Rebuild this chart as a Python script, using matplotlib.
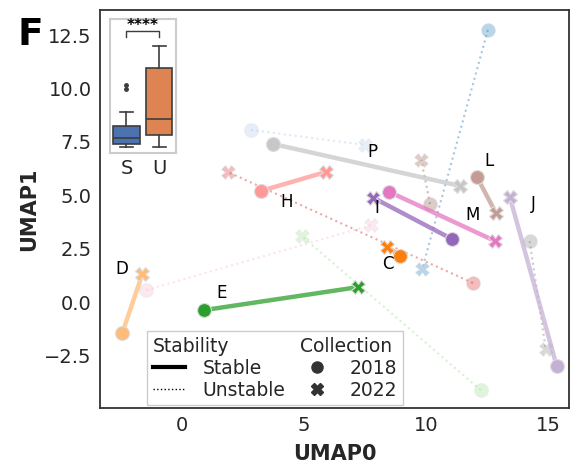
import matplotlib
matplotlib.use("Agg")
import matplotlib.pyplot as plt
from matplotlib.lines import Line2D

# group names, 2018 / 2022 UMAP positions and stability
groups = list("ABCDEFGHIJKLMNOP")
x2018 = [12.53, 2.82, 8.94, -2.45, 0.90, 12.24, 11.92, 3.22, 11.06, 15.35, 10.16, 12.08, 8.49, -1.47, 14.24, 3.71]
y2018 = [12.75, 8.06, 2.16, -1.45, -0.38, -4.13, 0.89, 5.20, 2.95, -3.00, 4.59, 5.86, 5.16, 0.56, 2.86, 7.41]
x2022 = [9.84, 7.51, 8.41, -1.63, 7.22, 4.90, 1.88, 5.88, 7.84, 13.43, 9.80, 12.86, 12.82, 7.76, 14.90, 11.39]
y2022 = [1.55, 7.36, 2.58, 1.31, 0.70, 3.09, 6.09, 6.09, 4.88, 4.92, 6.66, 4.17, 2.86, 3.61, -2.20, 5.44]
stable = [False, False, True, True, True, False, False, True, True, True, False, True, True, False, False, True]

# label positions for the stable groups
label_names = ["P", "L", "J", "M", "I", "C", "H", "E", "D"]
label_x = [7.80, 12.57, 14.41, 11.92, 7.96, 8.45, 4.29, 1.63, -2.49]
label_y = [7.03, 6.61, 4.59, 4.08, 4.40, 1.78, 4.69, 0.42, 1.55]

# inset boxplot stats (S = stable, U = unstable)
box_labels = ["S", "U"]
box_low = [0.63, 0.63]
box_q1 = [0.90, 1.77]
box_med = [1.50, 3.37]
box_q3 = [2.73, 8.53]
box_high = [4.07, 10.73]
box_fliers = [[6.37, 6.80], []]

colors = plt.get_cmap("tab20").colors
txt_col = "#262626"

fig = plt.figure(figsize=(5.72, 4.68), dpi=100)
ax = fig.add_axes([0.175, 0.128, 0.82, 0.851])

# unstable first (faded, dotted), stable on top
for pass_stable in [False, True]:
    for i, g in enumerate(groups):
        if stable[i] != pass_stable:
            continue
        c = colors[i]
        if stable[i]:
            ax.plot([x2018[i], x2022[i]], [y2018[i], y2022[i]], color=c, lw=3.2, alpha=0.75,
                    solid_capstyle="round", zorder=3)
            a = 1.0
            z = 4
        else:
            ax.plot([x2018[i], x2022[i]], [y2018[i], y2022[i]], color=c, lw=1.5, ls=":",
                    alpha=0.4, zorder=1)
            a = 0.3
            z = 2
        ax.plot(x2018[i], y2018[i], "o", color=c, ms=10, mec="#dddddd", mew=0.8, alpha=a, zorder=z)
        ax.plot(x2022[i], y2022[i], "X", color=c, ms=10, mec="#dddddd", mew=0.8, alpha=a, zorder=z)

for n, lx, ly in zip(label_names, label_x, label_y):
    ax.text(lx, ly, n, fontsize=12, ha="center", va="center", color="black", zorder=6)

ax.set_xlim(-3.36, 15.86)
ax.set_ylim(-4.97, 13.69)
ax.set_xticks([0, 5, 10, 15])
ax.set_yticks([-2.5, 0.0, 2.5, 5.0, 7.5, 10.0, 12.5])
ax.tick_params(length=0, labelsize=14, labelcolor=txt_col, pad=6)
for s in ax.spines.values():
    s.set_color("#333333")
    s.set_linewidth(1.3)
ax.set_xlabel("UMAP0", fontsize=15, fontweight="bold", color=txt_col, labelpad=6)
ax.set_ylabel("UMAP1", fontsize=15, fontweight="bold", color=txt_col, labelpad=4)

# legend with two subtitle entries
blank = Line2D([], [], linestyle="none", marker="none", visible=False)
handles = [
    blank,
    Line2D([], [], color="black", lw=3),
    Line2D([], [], color="black", lw=1, ls=":"),
    blank,
    Line2D([], [], color="#333333", marker="o", ls="none", ms=8),
    Line2D([], [], color="#333333", marker="X", ls="none", ms=8),
]
labels = ["Stability", "Stable", "Unstable", "Collection", "2018", "2022"]
leg = ax.legend(handles, labels, ncol=2, loc="lower left", bbox_to_anchor=(0.1, 0.007),
                borderaxespad=0, fontsize=13.5, columnspacing=0.8, handlelength=1.75,
                handletextpad=0.9, labelspacing=0.15, fancybox=False, framealpha=1,
                edgecolor="#cccccc", borderpad=0.3)
for col in leg._legend_handle_box.get_children():
    for hp in col.get_children():
        da, ta = hp.get_children()
        if ta.get_children()[0].get_text() in ("Stability", "Collection"):
            da.set_width(0)
            hp.sep = 0
for t in leg.get_texts():
    t.set_color(txt_col)

# inset boxplot
ins = fig.add_axes([0.192, 0.673, 0.116, 0.286])
stats = []
for k in range(2):
    stats.append(dict(label=box_labels[k], whislo=box_low[k], q1=box_q1[k], med=box_med[k],
                      q3=box_q3[k], whishi=box_high[k], fliers=box_fliers[k]))
bp = ins.bxp(stats, positions=[0, 1], widths=0.8, patch_artist=True, capwidths=0.4,
             boxprops=dict(edgecolor="#3d3d3d", linewidth=1.2),
             medianprops=dict(color="#3d3d3d", linewidth=1.2),
             whiskerprops=dict(color="#3d3d3d", linewidth=1.2),
             capprops=dict(color="#3d3d3d", linewidth=1.2),
             flierprops=dict(marker="o", markersize=2.5, markerfacecolor="#3d3d3d",
                             markeredgecolor="#3d3d3d"))
for patch, fc in zip(bp["boxes"], ["#4c72b0", "#dd8452"]):
    patch.set_facecolor(fc)
ins.set_xlim(-0.51, 1.52)
ins.set_ylim(0, 13.4)
ins.set_yticks([])
ins.tick_params(axis="x", length=0, labelsize=14, labelcolor=txt_col, pad=4)
for s in ins.spines.values():
    s.set_color("#cccccc")
    s.set_linewidth(1.5)
ins.plot([0, 0, 1, 1], [11.57, 12.23, 12.23, 11.57], color="#3d3d3d", lw=1)
ins.text(0.5, 12.75, "****", ha="center", va="center", fontsize=11, fontweight="bold",
         color="black", clip_on=False)

fig.text(0.053, 0.925, "F", fontsize=27, fontweight="bold", ha="center", va="center")

fig.savefig("out.png", dpi=100)
